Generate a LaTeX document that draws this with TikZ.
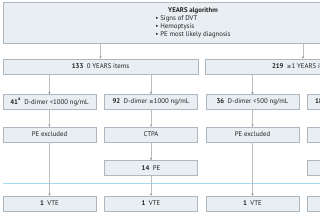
\documentclass[tikz,border=0pt]{standalone}
\usepackage{fontspec}
\setmainfont{PT Sans}
\newfontfamily\symfont{DejaVu Sans}
\usepackage{tikz}
\usetikzlibrary{arrows.meta, positioning, calc}
\definecolor{boxfill}{HTML}{E8EEF2}
\definecolor{boxline}{HTML}{AEB7BF}
\definecolor{linkgray}{HTML}{BDBDBD}
\definecolor{tipgray}{HTML}{8A8A8A}
\definecolor{splitblue}{HTML}{A3DBEE}
\definecolor{textdark}{HTML}{222222}
\newcommand{\geqsym}{{\symfont\fontsize{5.6}{6}\selectfont ≥}}

\begin{document}
\begin{tikzpicture}[x=1pt, y=-1pt,
    box/.style={draw=boxline, fill=boxfill, line width=0.5pt, inner sep=0pt,
      minimum width=93pt, minimum height=15pt, text=textdark,
      font=\fontsize{6.8}{8}\selectfont},
    widebox/.style={box, minimum width=195pt},
    link/.style={-{Stealth[length=2.4pt, width=2.2pt, color=tipgray]}, linkgray, line width=0.5pt}]
  \useasboundingbox (0,0) rectangle (320,213);
  \clip (0,0) rectangle (320,213);

  % algorithm box
  \node[box, minimum width=397pt, minimum height=41pt] (years) at (201.5,22.5) {};
  \node[text=textdark, font=\fontsize{6.8}{8}\selectfont, inner sep=0pt] (yearstext) at (193,22.5)
    {\begin{tabular}{@{}l@{}}
      \multicolumn{1}{@{}c@{}}{\textbf{YEARS algorithm}}\\
      • Signs of DVT\\
      • Hemoptysis\\
      • PE most likely diagnosis
    \end{tabular}};

  % YEARS items
  \node[widebox] (zero) at (100.5,66.5) {\textbf{133}\enspace 0 YEARS items};
  \node[widebox] (one) at (303,66.5) {\textbf{219}\enspace \geqsym1 YEARS items};

  % D-dimer split
  \node[box] (lowA) at (49.5,102) {\textbf{41\textsuperscript{a}}\enspace D-dimer <1000 ng/mL};
  \node[box] (highA) at (151,102) {\textbf{92}\enspace D-dimer \geqsym1000 ng/mL};
  \node[box] (lowB) at (252.5,102) {\textbf{36}\enspace D-dimer <500 ng/mL};
  \node[box] (highB) at (353.5,102) {\textbf{183}\enspace D-dimer \geqsym500 ng/mL};

  \node[box] (exclA) at (49.5,134.5) {PE excluded};
  \node[box] (ctpaA) at (151,134.5) {CTPA};
  \node[box] (exclB) at (252.5,134.5) {PE excluded};
  \node[box] (ctpaB) at (353.5,134.5) {};

  \node[box] (peA) at (151,168) {\textbf{14}\enspace PE};
  \node[box] (peB) at (353.5,168) {};

  % follow-up
  \node[box] (vteA) at (49.5,203.5) {\textbf{1}\enspace VTE};
  \node[box] (vteB) at (151,203.5) {\textbf{1}\enspace VTE};
  \node[box] (vteC) at (252.5,203.5) {\textbf{1}\enspace VTE};
  \node[box] (vteD) at (353.5,203.5) {};

  \coordinate (splitL) at (3,183.3);
  \coordinate (splitR) at (400,183.3);
  \draw[splitblue, line width=0.6pt] (splitL) -- (splitR);

  \draw[link] (years.south -| zero) -- (zero.north);
  \draw[link] (years.south -| one) -- (one.north);
  \draw[link] (zero.south -| lowA) -- (lowA.north);
  \draw[link] (zero.south -| highA) -- (highA.north);
  \draw[link] (one.south -| lowB) -- (lowB.north);
  \draw[link] (one.south -| highB) -- (highB.north);
  \draw[link] (lowA) -- (exclA);
  \draw[link] (highA) -- (ctpaA);
  \draw[link] (lowB) -- (exclB);
  \draw[link] (highB) -- (ctpaB);
  \draw[link] (exclA) -- (vteA);
  \draw[link] (ctpaA) -- (peA);
  \draw[link] (peA) -- (vteB);
  \draw[link] (exclB) -- (vteC);
  \draw[link] (ctpaB) -- (peB);
  \draw[link] (peB) -- (vteD);
\end{tikzpicture}
\end{document}
